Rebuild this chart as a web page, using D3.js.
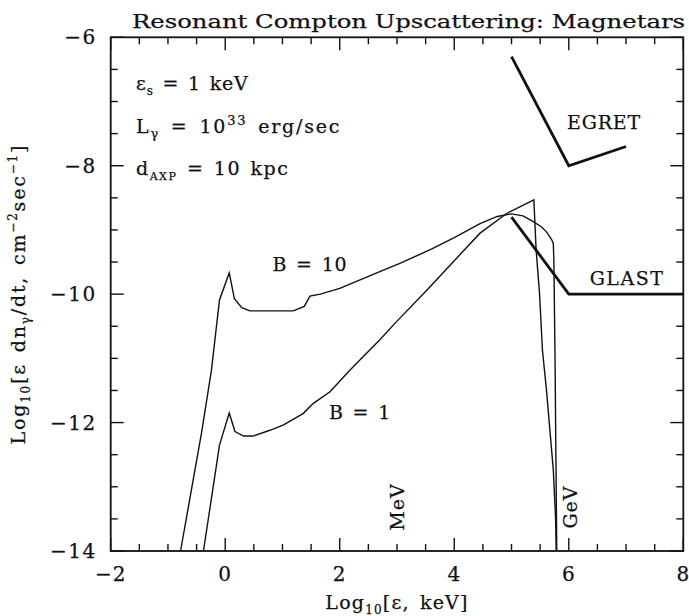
<!DOCTYPE html>
<html>
<head>
<meta charset="utf-8">
<script src="https://cdn.jsdelivr.net/npm/d3@7"></script>
<style>
  body { margin: 0; background: #fff; }
  svg text { font-family: "DejaVu Serif", "Liberation Serif", serif; fill: #111; stroke: #111; stroke-width: 0.25px; }
</style>
</head>
<body>
<div id="chart"></div>
<script>
// B = 10 spectrum
var b10X = [-0.78, -0.41, -0.24, -0.10, 0.07, 0.16, 0.29, 0.43, 1.19, 1.38, 1.48, 1.66, 2.00, 2.70, 3.05, 3.60, 4.00, 4.45, 4.75, 5.00, 5.20, 5.38, 5.52, 5.61, 5.70, 5.73, 5.74, 5.76, 5.79];
var b10Y = [-14, -12.14, -11.18, -10.09, -9.67, -10.07, -10.21, -10.26, -10.26, -10.19, -10.03, -10.00, -9.91, -9.65, -9.52, -9.30, -9.12, -8.90, -8.79, -8.75, -8.78, -8.87, -8.95, -9.03, -9.15, -9.21, -9.5, -11, -14];
// B = 1 spectrum
var b1X = [-0.38, -0.10, 0.07, 0.17, 0.32, 0.49, 0.78, 1.01, 1.36, 1.54, 1.83, 2.18, 2.70, 3.00, 3.52, 4.00, 4.45, 4.92, 5.39, 5.43, 5.49, 5.54, 5.61, 5.73, 5.77, 5.78];
var b1Y = [-14, -12.35, -11.85, -12.14, -12.21, -12.21, -12.12, -12.04, -11.86, -11.70, -11.52, -11.18, -10.71, -10.42, -9.94, -9.48, -9.05, -8.74, -8.53, -9.31, -10.0, -10.87, -11.49, -12.74, -13.5, -14];
// instrument sensitivities
var egretX = [5, 6, 7];
var egretY = [-6.3, -8, -7.7];
var glastX = [5, 6, 8];
var glastY = [-8.8, -10, -10];

var xMajor = [-2, 0, 2, 4, 6, 8];
var yMajor = [-6, -8, -10, -12, -14];

var width = 689, height = 616;
var margin = {left: 110.7, right: 5.7, top: 37.3, bottom: 65};

var svg = d3.select("#chart").append("svg")
    .attr("width", width)
    .attr("height", height);

var x = d3.scaleLinear().domain([-2, 8]).range([margin.left, width - margin.right]);
var y = d3.scaleLinear().domain([-14, -6]).range([height - margin.bottom, margin.top]);

var xMinor = d3.range(-2, 8.01, 0.5);
var yMinor = d3.range(-14, -5.99, 0.5);
function isMajor(d) { return Math.abs(d / 2 - Math.round(d / 2)) < 1e-6; }
function tickLen(d) { return isMajor(d) ? 13 : 7; }

function fmt(d) { return d < 0 ? "\u2212" + Math.abs(d) : String(d); }

// frame
var x0 = x(-2), x1 = x(8), y0 = y(-6), y1 = y(-14);
svg.append("rect")
    .attr("x", x0).attr("y", y0)
    .attr("width", x1 - x0).attr("height", y1 - y0)
    .attr("fill", "none").attr("stroke", "#111").attr("stroke-width", 1.8);

// inward ticks on all four sides
var ticks = svg.append("g").attr("stroke", "#111").attr("stroke-width", 1.4);
ticks.selectAll(".xb").data(xMinor).enter().append("line")
    .attr("x1", function(d) { return x(d); }).attr("x2", function(d) { return x(d); })
    .attr("y1", y1).attr("y2", function(d) { return y1 - tickLen(d); });
ticks.selectAll(".xt").data(xMinor).enter().append("line")
    .attr("x1", function(d) { return x(d); }).attr("x2", function(d) { return x(d); })
    .attr("y1", y0).attr("y2", function(d) { return y0 + tickLen(d); });
ticks.selectAll(".yl").data(yMinor).enter().append("line")
    .attr("y1", function(d) { return y(d); }).attr("y2", function(d) { return y(d); })
    .attr("x1", x0).attr("x2", function(d) { return x0 + tickLen(d); });
ticks.selectAll(".yr").data(yMinor).enter().append("line")
    .attr("y1", function(d) { return y(d); }).attr("y2", function(d) { return y(d); })
    .attr("x1", x1).attr("x2", function(d) { return x1 - tickLen(d); });

// tick labels
svg.append("g").selectAll("text").data(xMajor).enter().append("text")
    .attr("x", function(d) { return x(d); }).attr("y", y1 + 30)
    .attr("text-anchor", "middle").attr("font-size", 20)
    .style("letter-spacing", "1px")
    .text(fmt);
svg.append("g").selectAll("text").data(yMajor).enter().append("text")
    .attr("x", x0 - 14).attr("y", function(d) { return y(d) + 7; })
    .attr("text-anchor", "end").attr("font-size", 20)
    .style("letter-spacing", "1.5px")
    .text(fmt);

var line = d3.line().x(function(d) { return x(d[0]); }).y(function(d) { return y(d[1]); });

function pairs(xs, ys) { return xs.map(function(v, i) { return [v, ys[i]]; }); }

svg.append("path").datum(pairs(b10X, b10Y)).attr("d", line)
    .attr("fill", "none").attr("stroke", "#111").attr("stroke-width", 1.4);
svg.append("path").datum(pairs(b1X, b1Y)).attr("d", line)
    .attr("fill", "none").attr("stroke", "#111").attr("stroke-width", 1.4);
svg.append("path").datum(pairs(egretX, egretY)).attr("d", line)
    .attr("fill", "none").attr("stroke", "#111").attr("stroke-width", 2.8);
svg.append("path").datum(pairs(glastX, glastY)).attr("d", line)
    .attr("fill", "none").attr("stroke", "#111").attr("stroke-width", 2.8);

// title
svg.append("text").attr("x", 132).attr("y", 28)
    .attr("font-size", 19).attr("textLength", 553).attr("lengthAdjust", "spacingAndGlyphs")
    .text("Resonant Compton Upscattering: Magnetars");

// annotations
var ann = svg.append("g").attr("font-size", 19);
var t1 = ann.append("text").attr("x", 136).attr("y", 90)
    .style("letter-spacing", "0.8px").style("word-spacing", "2px");
t1.append("tspan").text("\u03b5");
t1.append("tspan").attr("font-size", 12).attr("dy", 5).text("s");
t1.append("tspan").attr("dy", -5).text(" = 1 keV");

var t2 = ann.append("text").attr("x", 136).attr("y", 133)
    .style("letter-spacing", "1.8px").style("word-spacing", "3px");
t2.append("tspan").text("L");
t2.append("tspan").attr("font-size", 13).attr("dy", 5).text("\u03b3");
t2.append("tspan").attr("dy", -5).text(" = 10");
t2.append("tspan").attr("font-size", 13).attr("dy", -8).text("33");
t2.append("tspan").attr("dy", 8).text(" erg/sec");

var t3 = ann.append("text").attr("x", 136).attr("y", 175)
    .style("letter-spacing", "1.5px").style("word-spacing", "2px");
t3.append("tspan").text("d");
t3.append("tspan").attr("font-size", 11).attr("dy", 5).text("AXP");
t3.append("tspan").attr("dy", -5).text(" = 10 kpc");

ann.append("text").attr("x", 310).attr("y", 271).attr("text-anchor", "middle")
    .style("letter-spacing", "0.8px").style("word-spacing", "2px").text("B = 10");
ann.append("text").attr("x", 360).attr("y", 419).attr("text-anchor", "middle")
    .style("letter-spacing", "0.8px").style("word-spacing", "2px").text("B = 1");
ann.append("text").attr("x", 604).attr("y", 129).attr("text-anchor", "middle")
    .style("letter-spacing", "0.8px").text("EGRET");
ann.append("text").attr("x", 627).attr("y", 285).attr("text-anchor", "middle")
    .style("letter-spacing", "1.5px").text("GLAST");

ann.append("text").attr("transform", "translate(" + (x(3) + 7) + ",507) rotate(-90)")
    .attr("text-anchor", "middle").style("letter-spacing", "1px").text("MeV");
ann.append("text").attr("transform", "translate(" + (x(6) + 8) + ",507) rotate(-90)")
    .attr("text-anchor", "middle").style("letter-spacing", "1px").text("GeV");

// axis titles
var xt = svg.append("text").attr("x", x(3)).attr("y", 609).attr("font-size", 19)
    .attr("text-anchor", "middle").style("letter-spacing", "1.2px").style("word-spacing", "3px");
xt.append("tspan").text("Log");
xt.append("tspan").attr("font-size", 12).attr("dy", 5).text("10");
xt.append("tspan").attr("dy", -5).text("[\u03b5, keV]");

var yt = svg.append("text").attr("transform", "translate(25," + y(-10) + ") rotate(-90)")
    .attr("font-size", 19).attr("text-anchor", "middle")
    .style("letter-spacing", "1.8px").style("word-spacing", "3px");
yt.append("tspan").text("Log");
yt.append("tspan").attr("font-size", 12).attr("dy", 5).text("10");
yt.append("tspan").attr("dy", -5).text("[\u03b5 dn");
yt.append("tspan").attr("font-size", 12).attr("dy", 5).text("\u03b3");
yt.append("tspan").attr("dy", -5).text("/dt, cm");
yt.append("tspan").attr("font-size", 12).attr("dy", -8).text("\u22122");
yt.append("tspan").attr("dy", 8).text("sec");
yt.append("tspan").attr("font-size", 12).attr("dy", -8).text("\u22121");
yt.append("tspan").attr("dy", 8).text("]");
</script>
</body>
</html>
